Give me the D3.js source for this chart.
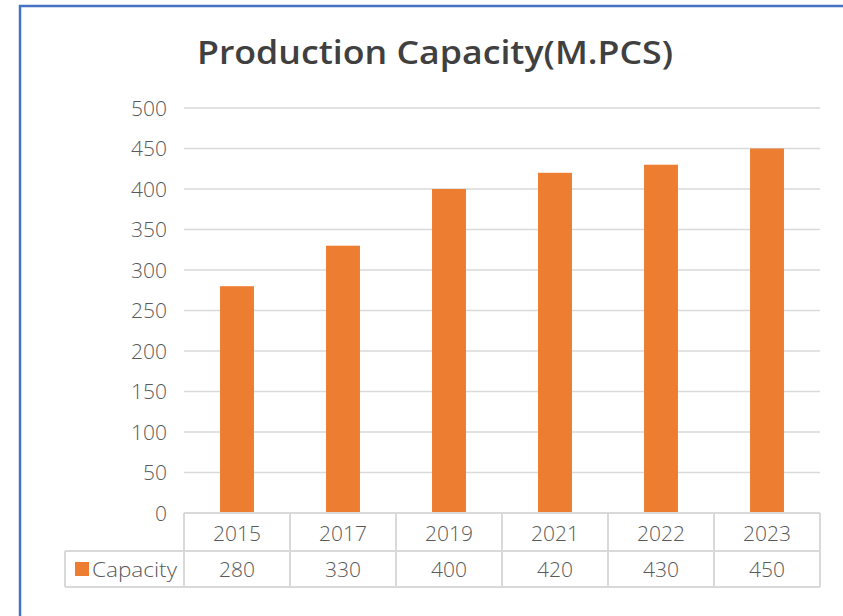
<!DOCTYPE html>
<html>
<head>
<meta charset="utf-8">
<script src="https://cdn.jsdelivr.net/npm/d3@7"></script>
<style>
  body { margin: 0; background: #fff; }
  svg { display: block; }
</style>
</head>
<body>
<svg id="chart" width="843" height="616"></svg>
<script>
// chart data
const years = ["2015", "2017", "2019", "2021", "2022", "2023"];
const capacity = [280, 330, 400, 420, 430, 450];
const seriesName = "Capacity";
const yTicks = [0, 50, 100, 150, 200, 250, 300, 350, 400, 450, 500];

const svg = d3.select("#chart");
const font = "'Open Sans', 'Noto Sans', sans-serif";
const textColor = "#595959";
const lineColor = "#d9d9d9";
const barColor = "#ed7d31";

// outer chart border (blue, top and left edges visible)
svg.append("path")
   .attr("d", "M20,700 L20,6 L900,6")
   .attr("fill", "none")
   .attr("stroke", "#4472c4")
   .attr("stroke-width", 2.5);

// title
svg.append("text")
   .attr("x", 435)
   .attr("y", 64)
   .attr("text-anchor", "middle")
   .attr("font-family", font)
   .attr("font-weight", 600)
   .attr("font-size", 33)
   .attr("textLength", 476)
   .attr("lengthAdjust", "spacingAndGlyphs")
   .attr("fill", "#404040")
   .text("Production Capacity(M.PCS)");

// plot area
const plotLeft = 184, plotRight = 820, plotTop = 108, plotBottom = 513;

const x = d3.scaleBand()
            .domain(years)
            .range([plotLeft, plotRight])
            .paddingInner(0.68)
            .paddingOuter(0.34);

const xCell = d3.scaleBand()
            .domain(years)
            .range([plotLeft, plotRight]);

const y = d3.scaleLinear()
            .domain([0, 500])
            .range([plotBottom, plotTop]);

// gridlines
svg.append("g")
   .selectAll("line")
   .data(yTicks.filter(d => d > 0))
   .enter().append("line")
     .attr("x1", plotLeft)
     .attr("x2", plotRight)
     .attr("y1", d => y(d))
     .attr("y2", d => y(d))
     .attr("stroke", lineColor)
     .attr("stroke-width", 1.3);

// y axis labels
svg.append("g")
   .selectAll("text")
   .data(yTicks)
   .enter().append("text")
     .attr("x", 167)
     .attr("y", d => y(d))
     .attr("dy", "0.36em")
     .attr("text-anchor", "end")
     .attr("font-family", font)
     .attr("font-weight", 300)
     .attr("font-size", 21)
     .attr("fill", textColor)
     .text(d => d);

// bars
const data = years.map((yr, i) => ({ year: yr, value: capacity[i] }));
svg.append("g")
   .selectAll("rect")
   .data(data)
   .enter().append("rect")
     .attr("x", d => x(d.year))
     .attr("y", d => y(d.value))
     .attr("width", x.bandwidth())
     .attr("height", d => y(0) - y(d.value))
     .attr("fill", barColor);

// data table
const rowH1 = 38, rowH2 = 36;
const tableLeft = 65;
const row1Bottom = plotBottom + rowH1;
const row2Bottom = row1Bottom + rowH2;
const table = svg.append("g")
   .attr("stroke", lineColor)
   .attr("stroke-width", 2)
   .attr("fill", "none");

// horizontal lines
table.append("line").attr("x1", plotLeft).attr("x2", plotRight).attr("y1", plotBottom).attr("y2", plotBottom);
table.append("line").attr("x1", tableLeft).attr("x2", plotRight).attr("y1", row1Bottom).attr("y2", row1Bottom);
table.append("line").attr("x1", tableLeft).attr("x2", plotRight).attr("y1", row2Bottom).attr("y2", row2Bottom);
// vertical lines
table.append("line").attr("x1", tableLeft).attr("x2", tableLeft).attr("y1", row1Bottom).attr("y2", row2Bottom);
table.selectAll("line.v")
   .data(years.concat(["end"]))
   .enter().append("line")
     .attr("class", "v")
     .attr("x1", d => d === "end" ? plotRight : xCell(d))
     .attr("x2", d => d === "end" ? plotRight : xCell(d))
     .attr("y1", plotBottom)
     .attr("y2", row2Bottom);

// category labels
svg.append("g")
   .selectAll("text")
   .data(years)
   .enter().append("text")
     .attr("x", d => xCell(d) + xCell.bandwidth() / 2)
     .attr("y", plotBottom + rowH1 / 2 + 1)
     .attr("dy", "0.36em")
     .attr("text-anchor", "middle")
     .attr("font-family", font)
     .attr("font-weight", 300)
     .attr("font-size", 21)
     .attr("fill", textColor)
     .text(d => d);

// values
svg.append("g")
   .selectAll("text")
   .data(data)
   .enter().append("text")
     .attr("x", d => xCell(d.year) + xCell.bandwidth() / 2)
     .attr("y", row1Bottom + rowH2 / 2)
     .attr("dy", "0.36em")
     .attr("text-anchor", "middle")
     .attr("font-family", font)
     .attr("font-weight", 300)
     .attr("font-size", 21)
     .attr("fill", textColor)
     .text(d => d.value);

// legend key in table
svg.append("rect")
   .attr("x", 75)
   .attr("y", row1Bottom + rowH2 / 2 - 7)
   .attr("width", 14)
   .attr("height", 14)
   .attr("fill", barColor);
svg.append("text")
   .attr("x", 92)
   .attr("y", row1Bottom + rowH2 / 2)
   .attr("dy", "0.36em")
   .attr("font-family", font)
   .attr("font-weight", 300)
   .attr("font-size", 21)
   .attr("fill", textColor)
   .attr("textLength", 85)
   .attr("lengthAdjust", "spacingAndGlyphs")
   .text(seriesName);
</script>
</body>
</html>
